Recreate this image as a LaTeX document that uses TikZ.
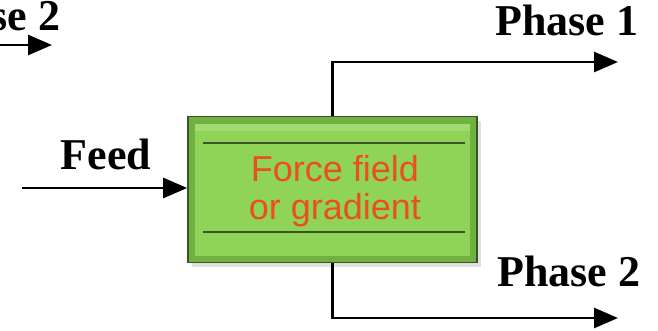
\documentclass[tikz,border=0pt]{standalone}
\usepackage{fontspec}
\setmainfont{Liberation Serif}
\newfontfamily\boxfont{Liberation Sans}
\usetikzlibrary{arrows.meta,positioning}
\definecolor{fieldgreen}{RGB}{143,212,88}
\definecolor{fieldedge}{RGB}{112,178,64}
\definecolor{fieldline}{RGB}{58,84,40}
\definecolor{fieldtext}{RGB}{236,80,26}
\tikzset{
  flow/.style={line width=2pt,-{Triangle[length=18pt,width=15pt]}},
  stream/.style={font=\bfseries\fontsize{33}{36}\selectfont},
  separator/.style={draw=fieldline,line width=1.2pt,fill=fieldedge,
    minimum width=216.75pt,minimum height=109.5pt,inner sep=0pt}
}
\begin{document}
\begin{tikzpicture}[x=0.75pt,y=-0.75pt]
    \useasboundingbox (0,0) rectangle (658,331);
    \clip (0,0) rectangle (658,331);
    \fill[black!12] (192,121) rectangle (481,267);
    \node[separator] (box) at (332.5,189.5) {};
    \fill[fieldgreen] (195,124) rectangle (470,256);
    \fill[fieldgreen!85!white] (195,124) rectangle (470,131);
    \draw[fieldline,line width=1.2pt] (203,143) -- (465,143);
    \draw[fieldline,line width=1.2pt] (203,232) -- (465,232);
    \node[align=center,text=fieldtext,font=\boxfont\fontsize{27}{28.5}\selectfont]
        (task) at (335,191) {Force field\\or gradient};
    \node[stream,anchor=base east] (phaseold) at (65,31) {Phase 2};
    \node[stream,anchor=base west] (feed) at (56,170) {Feed};
    \node[stream,anchor=base east] (phaseone) at (643,36) {Phase 1};
    \node[stream,anchor=base east] (phasetwo) at (645,287) {Phase 2};
    \coordinate (oldin) at (-10,45);
    \coordinate (oldout) at (52,45);
    \coordinate (feedin) at (22,188);
    \coordinate (oneout) at (618,62);
    \coordinate (twoout) at (618,318);
    \draw[flow] (oldin) -- (oldout);
    \draw[flow] (feedin) -- (feedin -| box.west);
    \draw[flow] (box.north) |- (oneout);
    \draw[flow] (box.south) |- (twoout);
\end{tikzpicture}
\end{document}
